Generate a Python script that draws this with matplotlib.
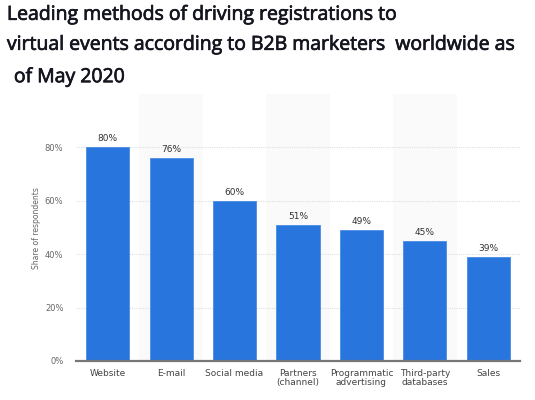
import numpy as np
import matplotlib.pyplot as plt
import matplotlib.patheffects as pe

categories = ["Website", "E-mail", "Social media", "Partners\n(channel)",
              "Programmatic\nadvertising", "Third-party\ndatabases", "Sales"]
shares = [80, 76, 60, 51, 49, 45, 39]
y_ticks = [0, 20, 40, 60, 80]
y_tick_labels = ["0%", "20%", "40%", "60%", "80%"]

fig = plt.figure(figsize=(5.35, 4.0), dpi=100)
ax = fig.add_axes([0.142, 0.0975, 0.830, 0.668])

x = np.arange(len(categories))

# faint alternating column stripes
for i in x:
    if i % 2 == 1:
        ax.axvspan(i - 0.5, i + 0.5, color="#fafafa", zorder=0, lw=0)

ax.bar(x, shares, width=0.68, color="#2876dd", edgecolor="#4a8ce6", linewidth=0.6, zorder=3)

for xi, v in zip(x, shares):
    ax.text(xi, v + 1.5, "{}%".format(v), ha="center", va="bottom",
            fontsize=6.5, color="#333333", zorder=4)

ax.set_xlim(-0.5, len(categories) - 0.5)
ax.set_ylim(0, 100)
ax.set_yticks(y_ticks)
ax.set_yticklabels(y_tick_labels, fontsize=6, color="#666666")
ax.set_xticks(x)
ax.set_xticklabels(categories, fontsize=6.5, color="#444444", linespacing=1.0)
ax.tick_params(axis="both", length=0, pad=6)
ax.tick_params(axis="y", pad=9)

ax.grid(axis="y", color="#e0e0e0", linestyle=(0, (1, 1)), linewidth=0.8, zorder=1)
for s in ["top", "right", "left"]:
    ax.spines[s].set_visible(False)
ax.spines["bottom"].set_color("#777777")
ax.spines["bottom"].set_linewidth(1.6)
ax.spines["bottom"].set_zorder(5)

fig.text(0.068, 0.43, "Share of respondents", rotation=90, fontsize=5.5,
         color="#666666", ha="center", va="center")

# title looks semi-bold in the original, thicken strokes slightly
title_font = dict(family="Open Sans", fontsize=14, color="#15151f", va="center", ha="left",
                  path_effects=[pe.withStroke(linewidth=0.5, foreground="#15151f")])
fig.text(0.013, 0.963, "Leading methods of driving registrations to", **title_font)
fig.text(0.013, 0.888, "virtual events according to B2B marketers  worldwide as", **title_font)
fig.text(0.026, 0.807, "of May 2020", **title_font)

fig.savefig("out.png", dpi=100)
